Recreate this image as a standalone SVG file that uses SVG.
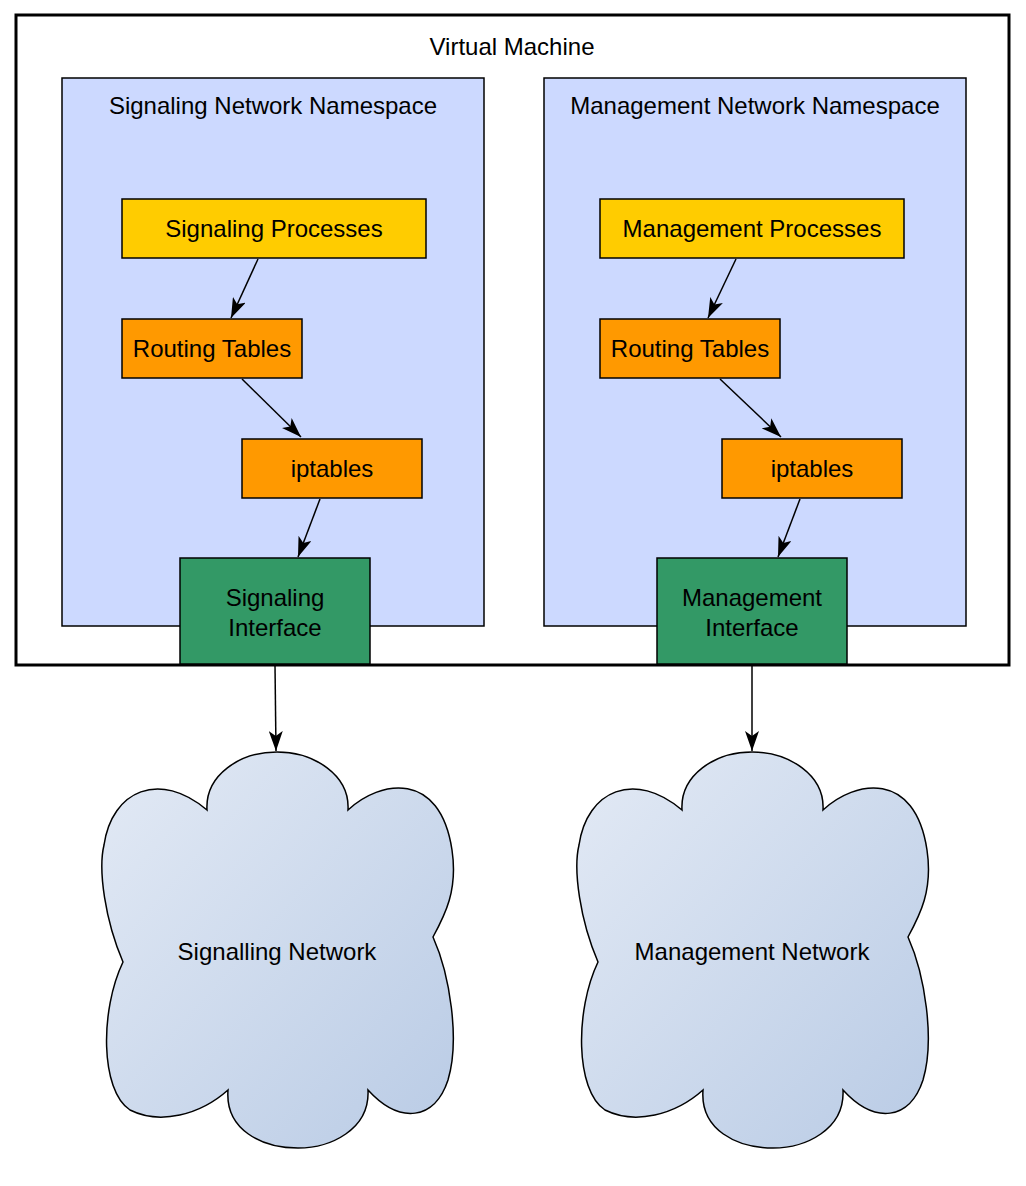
<svg xmlns="http://www.w3.org/2000/svg" width="1026" height="1186" viewBox="0 0 1026 1186">
<defs>
<style>
text{font-family:"Liberation Sans",Arial,sans-serif;font-size:24px;fill:#000;text-anchor:middle}
.ns{fill:#ccd9ff;stroke:#000;stroke-width:1.5}
.proc{fill:#ffcc00;stroke:#000;stroke-width:1.5}
.tbl{fill:#ff9900;stroke:#000;stroke-width:1.5}
.ifc{fill:#339966;stroke:#000;stroke-width:1.5}
.cloud{fill:url(#cg);stroke:#000;stroke-width:1.5}
.edge{fill:none;stroke:#000;stroke-width:1.5}
</style>
<linearGradient id="cg" x1="0" y1="0" x2="1" y2="1">
<stop offset="0" stop-color="#e3eaf5"/>
<stop offset="1" stop-color="#b9cbe5"/>
</linearGradient>
<marker id="ah" viewBox="0 0 20 14" refX="20" refY="7" markerWidth="20" markerHeight="14" markerUnits="userSpaceOnUse" orient="auto">
<path d="M0,0 L20,7 L0,14 L5,7 Z" fill="#000"/>
</marker>
</defs>
<rect width="1026" height="1186" fill="#fff"/>
<g id="vm">
<rect x="16" y="15" width="993" height="650" fill="#fff" stroke="#000" stroke-width="3"/>
<text x="512" y="55">Virtual Machine</text>
</g>
<g id="sig-ns">
<rect class="ns" x="62" y="78" width="422" height="548"/>
<text x="273" y="114">Signaling Network Namespace</text>
</g>
<g id="mgmt-ns">
<rect class="ns" x="544" y="78" width="422" height="548"/>
<text x="755" y="114">Management Network Namespace</text>
</g>
<g id="sig-proc">
<rect class="proc" x="122" y="199" width="304" height="59"/>
<text x="274" y="237">Signaling Processes</text>
</g>
<g id="sig-rt">
<rect class="tbl" x="122" y="319" width="180" height="59"/>
<text x="212" y="357">Routing Tables</text>
</g>
<g id="sig-ipt">
<rect class="tbl" x="242" y="439" width="180" height="59"/>
<text x="332" y="477">iptables</text>
</g>
<g id="sig-if">
<rect class="ifc" x="180" y="558" width="190" height="106"/>
<text x="275" y="606">Signaling</text>
<text x="275" y="636">Interface</text>
</g>
<g id="mgmt-proc">
<rect class="proc" x="600" y="199" width="304" height="59"/>
<text x="752" y="237">Management Processes</text>
</g>
<g id="mgmt-rt">
<rect class="tbl" x="600" y="319" width="180" height="59"/>
<text x="690" y="357">Routing Tables</text>
</g>
<g id="mgmt-ipt">
<rect class="tbl" x="722" y="439" width="180" height="59"/>
<text x="812" y="477">iptables</text>
</g>
<g id="mgmt-if">
<rect class="ifc" x="657" y="558" width="190" height="106"/>
<text x="752" y="606">Management</text>
<text x="752" y="636">Interface</text>
</g>
<g id="sig-net">
<path class="cloud" d="M207,810 C205,775 240,752 277,752 C314,752 350,775 348,810 C380,780 440,770 452,850 C458,890 445,915 433,937 C450,975 460,1040 448,1080 C435,1120 400,1125 368,1090 C370,1130 330,1148 298,1148 C262,1148 225,1130 228,1090 C200,1115 160,1125 130,1110 C100,1090 100,1010 123,962 C105,920 98,870 104,845 C112,790 160,770 207,810 Z"/>
<text x="277" y="960">Signalling Network</text>
</g>
<g id="mgmt-net">
<path class="cloud" transform="translate(475,0)" d="M207,810 C205,775 240,752 277,752 C314,752 350,775 348,810 C380,780 440,770 452,850 C458,890 445,915 433,937 C450,975 460,1040 448,1080 C435,1120 400,1125 368,1090 C370,1130 330,1148 298,1148 C262,1148 225,1130 228,1090 C200,1115 160,1125 130,1110 C100,1090 100,1010 123,962 C105,920 98,870 104,845 C112,790 160,770 207,810 Z"/>
<text x="752" y="960">Management Network</text>
</g>
<g id="edges">
<path class="edge" marker-end="url(#ah)" d="M258,259 L231,318"/>
<path class="edge" marker-end="url(#ah)" d="M242,379 L301,437"/>
<path class="edge" marker-end="url(#ah)" d="M320,499 L298,557"/>
<path class="edge" marker-end="url(#ah)" d="M275,665 L276,751"/>
<path class="edge" marker-end="url(#ah)" d="M736,259 L708,318"/>
<path class="edge" marker-end="url(#ah)" d="M720,379 L781,437"/>
<path class="edge" marker-end="url(#ah)" d="M800,499 L778,557"/>
<path class="edge" marker-end="url(#ah)" d="M752,665 L752,751"/>
</g>
</svg>
